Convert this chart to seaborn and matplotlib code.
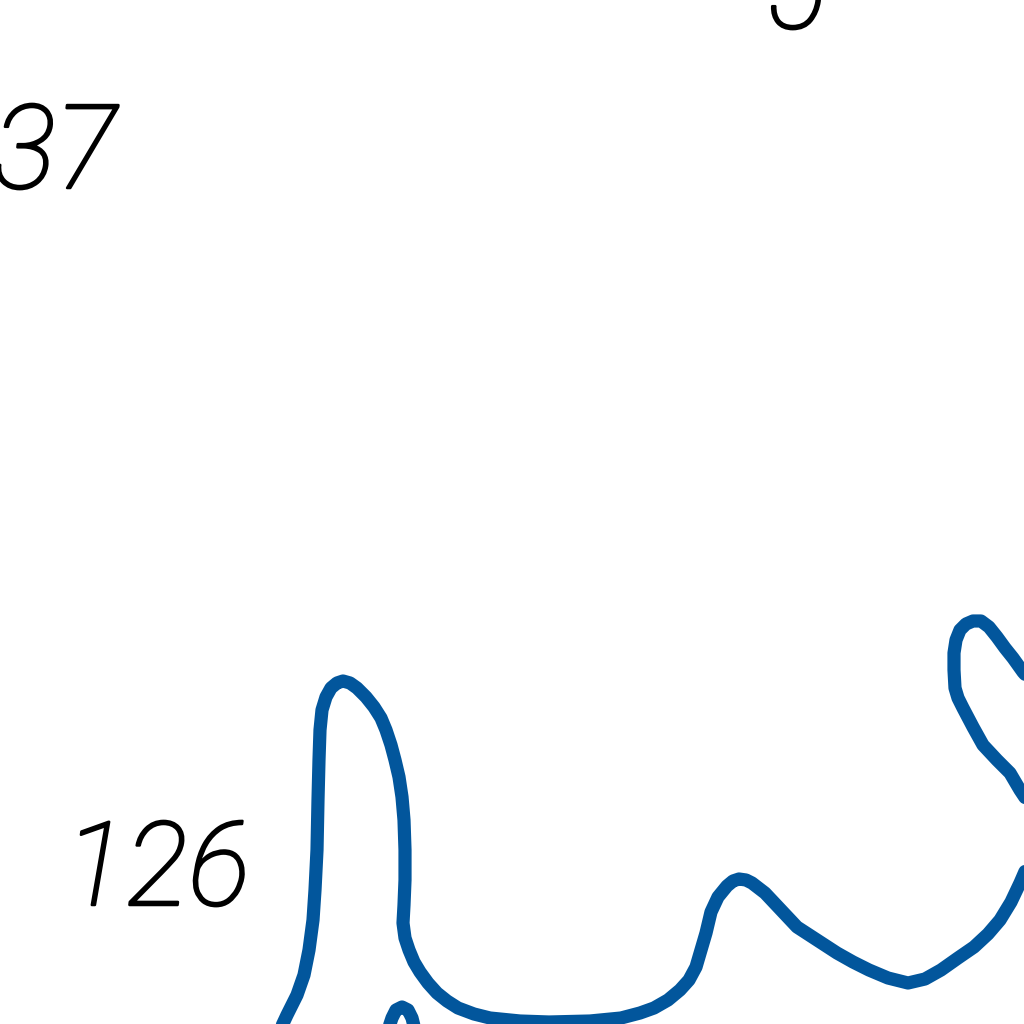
import pandas as pd
import matplotlib.pyplot as plt
import matplotlib.patheffects as pe
import seaborn as sns

sns.set_theme(style="white")
plt.rcParams['font.family'] = ['Roboto', 'DejaVu Sans']

# trace (x position, signal height; y axis runs downward)
main_x = [280, 287, 297, 304, 309, 313, 315, 317, 318, 319, 320, 322, 326, 331, 337,
          343, 350, 357, 366, 374, 381, 386, 391, 395, 399, 402, 404, 405, 405, 404,
          403, 405, 409, 414, 420, 428, 437, 447, 458, 474, 490, 520, 549, 590, 621,
          640, 654, 668, 680, 689, 696, 701, 706, 711, 718, 727, 733, 739, 746, 752,
          765, 781, 797, 817, 837, 853, 869, 888, 908, 925, 941, 958, 974, 988, 1000,
          1011, 1020, 1030]
main_y = [1030, 1015, 995, 975, 950, 920, 890, 850, 800, 760, 730, 710, 697, 688, 683,
          681, 683, 688, 697, 707, 718, 730, 745, 760, 777, 797, 820, 850, 880, 905,
          923, 938, 950, 962, 972, 983, 993, 1001, 1008, 1014, 1018, 1021, 1022, 1021, 1018,
          1013, 1008, 1000, 990, 980, 967, 950, 933, 912, 897, 886, 881, 879, 880, 883,
          893, 910, 927, 940, 953, 962, 970, 978, 983, 979, 970, 958, 947, 934, 920,
          902, 883, 860]

bump_x = [388, 392, 396, 402, 408, 412, 415]
bump_y = [1030, 1018, 1010, 1007, 1010, 1018, 1030]

loop_x = [1030, 1023, 1013, 1005, 997, 989, 981, 973, 966, 960, 956, 954, 954, 955,
          958, 963, 973, 983, 997, 1010, 1020, 1030]
loop_y = [680, 672, 658, 648, 637, 627, 621, 621, 624, 630, 640, 653, 670, 688,
          698, 708, 727, 745, 760, 773, 790, 805]

# peak labels
labels = ['137', '126', '5']
label_x = [117, 250, 826]
label_y = [188, 905, 28]

df = pd.concat([
    pd.DataFrame({'x': main_x, 'y': main_y, 'seg': 'main'}),
    pd.DataFrame({'x': bump_x, 'y': bump_y, 'seg': 'bump'}),
    pd.DataFrame({'x': loop_x, 'y': loop_y, 'seg': 'loop'}),
])

fig = plt.figure(figsize=(10.24, 10.24), dpi=100)
ax = fig.add_axes([0, 0, 1, 1])
sns.lineplot(data=df, x='x', y='y', units='seg', estimator=None, sort=False,
             color='#02569C', linewidth=9.5, ax=ax)
for t, x, y in zip(labels, label_x, label_y):
    ax.text(x, y, t, ha='right', va='baseline', fontsize=84, style='italic',
            fontweight='light', color='black',
            path_effects=[pe.withStroke(linewidth=1.8, foreground='black')])
ax.set_xlim(0, 1024)
ax.set_ylim(1024, 0)
ax.axis('off')
fig.savefig('out.png', dpi=100, facecolor='white')
